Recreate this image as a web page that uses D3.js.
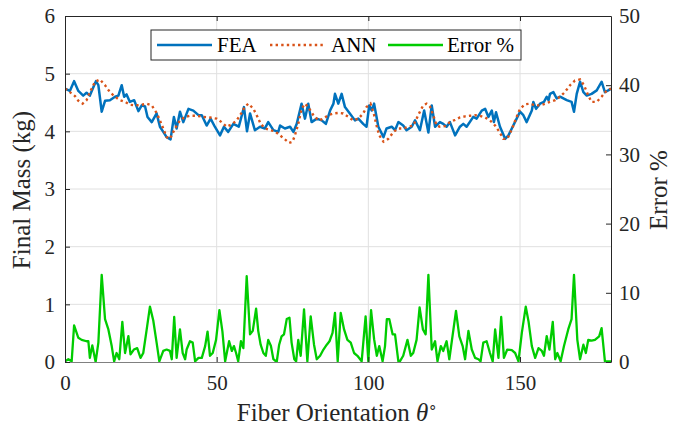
<!DOCTYPE html>
<html><head><meta charset="utf-8">
<script src="https://cdn.jsdelivr.net/npm/d3@7"></script>
<style>
html,body{margin:0;padding:0;background:#fff;}
svg{display:block;}
</style>
</head><body>
<svg id="chart" width="689" height="430"></svg>
<script>
// ---------- data ----------
const feaTheta = [0,1.6,3.0,4.4,6.0,7.1,8.2,9.3,10.2,11.0,12.1,13.2,14.8,16.5,17.6,18.7,19.5,20.3,21.4,22.8,24.2,25.3,26.4,27.2,28.6,30.2,31.3,32.4,33.5,34.8,35.9,36.8,37.9,39.0,40.7,42.3,44.0,45.1,46.7,48.0,49.4,51.1,52.4,53.8,55.5,57.3,59.0,60.0,61.0,62.6,64.3,65.9,67.0,68.7,70.3,70.9,72.5,74.2,75.3,76.4,78.0,79.1,80.2,81.3,83.0,84.6,86.0,87.4,88.5,89.0,90.1,91.2,92.3,93.9,95.6,96.7,98.3,99.4,100.3,101.1,101.9,103.3,105.0,106.0,107.7,108.8,109.9,111.5,112.6,114.3,115.4,117.0,118.4,119.8,120.9,122.0,123.6,124.7,125.8,126.9,128.6,130.2,131.3,132.4,134.6,135.7,137.4,138.5,139.6,140.7,141.4,142.1,143.4,145.1,146.2,147.3,148.9,150.0,151.1,152.2,153.9,154.4,155.3,156.6,157.9,158.8,159.4,159.9,161.0,162.1,163.2,165.4,167.0,167.8,168.7,169.8,170.9,172.0,173.6,175.3,176.9,178.0,179.1,180];
const feaMass  = [4.74,4.70,4.87,4.70,4.62,4.67,4.62,4.76,4.87,4.80,4.34,4.53,4.54,4.60,4.62,4.80,4.60,4.64,4.51,4.54,4.35,4.45,4.43,4.25,4.16,4.31,4.08,3.99,3.90,3.86,4.25,4.05,4.34,4.16,4.39,4.36,4.28,4.28,4.10,4.22,4.08,3.93,4.08,3.99,4.13,4.08,4.42,4.00,4.31,4.02,4.08,4.05,4.16,4.02,3.99,4.10,4.05,4.08,3.99,4.13,4.48,4.22,4.48,4.16,4.22,4.19,4.13,4.36,4.48,4.65,4.48,4.65,4.42,4.31,4.19,4.22,4.13,4.08,4.45,4.36,4.48,4.08,3.90,4.05,4.08,4.02,4.16,4.10,4.02,4.08,4.19,4.02,4.36,3.98,4.45,4.08,4.16,4.13,4.08,4.16,3.93,4.08,4.13,4.08,4.25,4.22,4.36,4.39,4.25,4.36,4.16,4.33,4.08,3.87,3.93,4.05,4.22,4.34,4.28,4.16,4.36,4.51,4.39,4.48,4.51,4.60,4.54,4.65,4.68,4.57,4.60,4.54,4.51,4.34,4.65,4.86,4.68,4.62,4.65,4.71,4.86,4.68,4.71,4.74];

const annTheta = [0,1.6,3.3,4.4,5.8,7.1,8.5,9.9,11.5,13.2,14.8,16.5,18.1,19.8,21.4,23.1,25.3,26.9,28.6,30.2,31.3,32.6,33.5,34.6,36.3,37.9,39.6,41.2,43.4,45.6,47.8,50.0,51.6,53.3,55.0,56.6,58.2,59.3,60.5,62.1,63.2,64.5,65.9,67.6,69.2,70.9,72.5,73.9,75.0,75.8,76.9,78.0,79.1,80.2,81.9,83.5,85.2,86.8,88.5,90.1,91.7,93.4,95.0,96.7,98.3,99.4,100.7,101.8,102.7,103.6,105.0,106.6,108.3,109.9,111.5,113.2,114.8,115.9,117.0,118.1,119.2,120.3,121.4,122.5,123.6,125.3,126.9,128.6,130.2,131.9,133.5,135.2,136.8,138.5,140.1,141.8,143.2,144.5,145.8,146.9,147.8,148.9,150.0,151.7,153.3,154.9,156.6,158.3,159.9,161.6,163.2,164.8,166.5,168.1,169.8,171.1,172.5,173.6,175.3,176.9,178.6,180];
const annMass  = [4.74,4.68,4.61,4.53,4.48,4.54,4.71,4.86,4.90,4.80,4.68,4.60,4.54,4.51,4.46,4.45,4.46,4.48,4.45,4.32,4.19,4.02,3.90,3.87,4.05,4.19,4.25,4.27,4.27,4.25,4.24,4.22,4.16,4.08,4.12,4.19,4.32,4.43,4.48,4.39,4.28,4.13,4.05,4.02,4.00,3.93,3.86,3.80,3.82,3.93,4.13,4.39,4.48,4.42,4.28,4.19,4.22,4.28,4.31,4.32,4.31,4.25,4.19,4.22,4.31,4.42,4.48,4.31,4.10,3.93,3.82,3.87,3.99,4.05,4.05,4.08,4.10,4.22,4.34,4.45,4.48,4.43,4.28,4.10,4.08,4.09,4.16,4.20,4.24,4.26,4.27,4.28,4.27,4.24,4.19,4.10,3.99,3.87,3.87,3.99,4.10,4.25,4.39,4.47,4.48,4.45,4.45,4.48,4.51,4.54,4.60,4.68,4.80,4.88,4.90,4.80,4.62,4.51,4.51,4.60,4.71,4.74];

const errTheta = [0,1.1,2.2,3.0,4.4,5.5,7.1,7.7,8.2,9.0,10.1,11.0,12.1,13.2,14.3,15.4,16.2,17.0,17.9,18.9,19.8,20.9,21.6,22.7,23.8,24.9,25.8,26.9,28.0,29.1,30.2,31.1,32.4,33.5,34.6,35.2,36.0,36.8,37.9,38.8,39.6,40.1,41.2,42.1,42.9,44.0,45.1,46.2,47.0,47.8,48.7,49.8,50.9,51.9,52.8,54.1,55.0,55.7,56.4,57.1,58.0,58.8,59.9,61.0,61.9,63.0,63.7,64.5,65.4,66.2,67.0,67.9,68.7,69.8,70.6,71.4,72.2,73.1,74.0,74.7,75.6,76.2,76.9,77.7,78.8,79.9,81.0,82.1,83.0,84.1,85.2,86.3,87.2,88.2,89.0,89.9,90.9,92.0,93.1,94.2,95.3,96.4,97.8,99.1,100.0,100.9,101.9,102.8,103.6,104.7,105.5,106.1,106.9,108.0,108.8,109.9,110.4,111.5,112.9,114.0,114.8,115.9,116.9,118.0,118.9,119.8,120.9,122.0,122.8,123.9,124.7,125.8,126.7,128.9,130.0,131.1,131.9,133.0,134.1,135.2,136.3,137.0,137.9,139.0,140.1,141.0,141.8,142.9,143.8,144.7,145.8,147.3,148.4,149.5,150.6,151.9,152.8,153.9,155.0,156.1,157.2,157.9,158.8,159.7,160.8,161.6,162.3,163.4,164.5,165.9,167.0,167.8,168.9,169.8,170.9,171.7,172.5,173.6,174.7,176.1,176.9,178.0,179.1,180];
const errPct   = [0.1,0.4,0.1,5.3,3.5,3.2,3.0,3.0,0.6,2.4,0.0,2.8,12.6,6.2,4.7,2.3,0.1,1.3,0.4,5.8,1.3,3.75,1.1,1.8,2.0,0.6,1.3,4.6,8.0,6.0,2.8,0.1,1.6,1.8,1.6,0.4,6.5,0.6,4.7,1.3,0.4,1.8,3.0,2.8,0.1,0.6,0.6,2.3,4.4,0.9,1.3,3.2,7.5,4.4,0.1,3.0,1.6,2.3,1.3,0.1,3.0,2.0,12.4,4.0,4.5,7.7,4.5,2.5,1.3,0.9,3.2,2.3,0.4,0.0,2.5,3.7,4.0,6.2,6.4,2.8,0.4,0.1,3.2,0.9,7.6,0.1,6.6,2.5,0.4,0.9,1.8,2.5,3.0,4.2,7.1,0.1,7.1,4.7,3.2,2.8,1.3,0.9,0.1,6.6,0.1,7.5,3.3,0.9,2.3,0.1,2.3,6.2,6.2,4.0,4.0,0.1,0.1,0.9,3.2,0.9,1.3,3.2,7.9,4.7,4.0,12.6,1.8,3.0,0.1,2.3,1.6,3.0,0.4,7.4,3.7,2.3,0.4,4.5,1.8,0.6,0.4,0.1,2.8,3.0,1.3,0.1,4.7,0.6,6.5,0.6,1.8,1.7,1.3,0.1,4.2,8.0,5.9,2.3,0.6,2.0,1.6,0.9,3.75,1.8,5.8,0.4,1.3,0.1,2.3,4.7,6.2,12.6,3.2,0.4,2.5,1.3,3.2,3.1,3.2,3.7,4.9,0.1,0.1,0.1];

const xTicks = [0,50,100,150];
const yLeftTicks = [0,1,2,3,4,5,6];
const yRightTicks = [0,10,20,30,40,50];
const legendLabels = ["FEA","ANN","Error %"];

// ---------- layout ----------
const svg = d3.select("#chart");
const L = 65, R = 611, T = 16, B = 362;
const FONT = '"Liberation Serif"';
const x = d3.scaleLinear().domain([0,180]).range([L,R]);
const yL = d3.scaleLinear().domain([0,6]).range([B,T]);
const yR = d3.scaleLinear().domain([0,50]).range([B,T]);
const fmt = d3.format("d");

// grid
const grid = svg.append("g").attr("stroke","#e0e0e0").attr("stroke-width",1);
xTicks.filter(d=>d>0).forEach(d=>grid.append("line").attr("x1",x(d)).attr("x2",x(d)).attr("y1",T).attr("y2",B));
yLeftTicks.filter(d=>d>0&&d<6).forEach(d=>grid.append("line").attr("x1",L).attr("x2",R).attr("y1",yL(d)).attr("y2",yL(d)));

svg.append("defs").append("clipPath").attr("id","clip")
  .append("rect").attr("x",L).attr("y",T-2).attr("width",R-L).attr("height",B-T+2);

const plot = svg.append("g").attr("clip-path","url(#clip)");
const lineL = (xs) => d3.line().x((d,i)=>x(xs[i])).y(d=>yL(d));
const lineR = (xs) => d3.line().x((d,i)=>x(xs[i])).y(d=>yR(d));

plot.append("path").datum(feaMass).attr("d",lineL(feaTheta))
  .attr("fill","none").attr("stroke","#0072BD").attr("stroke-width",2.5).attr("stroke-linejoin","round");
plot.append("path").datum(annMass).attr("d",lineL(annTheta))
  .attr("fill","none").attr("stroke","#D95319").attr("stroke-width",2.4).attr("stroke-dasharray","2.4,3.2");
plot.append("path").datum(errPct).attr("d",lineR(errTheta))
  .attr("fill","none").attr("stroke","#00CC00").attr("stroke-width",2.3).attr("stroke-linejoin","round");

// axes
function styleAxis(g){
  g.attr("font-family",null).attr("font-size",null);
  g.selectAll("text").style("font-family",FONT).style("font-size","21px").attr("fill","#262626");
  g.selectAll("line").attr("stroke","#262626");
}
const gx = svg.append("g").attr("transform",`translate(0,${B})`)
  .call(d3.axisBottom(x).tickValues(xTicks).tickFormat(fmt).tickSize(-5).tickPadding(13).tickSizeOuter(0));
styleAxis(gx); gx.select(".domain").attr("stroke","#808080").attr("stroke-width",1.2);
const gxt = svg.append("g").attr("transform",`translate(0,${T})`)
  .call(d3.axisTop(x).tickValues(xTicks).tickSize(-5).tickFormat("").tickSizeOuter(0));
styleAxis(gxt); gxt.select(".domain").attr("stroke","#262626");

const gl = svg.append("g").attr("transform",`translate(${L},0)`)
  .call(d3.axisLeft(yL).tickValues(yLeftTicks).tickFormat(fmt).tickSize(-5).tickPadding(10).tickSizeOuter(0));
styleAxis(gl); gl.select(".domain").attr("stroke","#262626");
const gr = svg.append("g").attr("transform",`translate(${R},0)`)
  .call(d3.axisRight(yR).tickValues(yRightTicks).tickFormat(fmt).tickSize(-5).tickPadding(8).tickSizeOuter(0));
styleAxis(gr); gr.select(".domain").attr("stroke","#262626");

// axis labels
svg.append("text").attr("x",337).attr("y",421).attr("text-anchor","middle")
  .style("font-family",FONT).style("font-size","25px").attr("fill","#262626")
  .html('Fiber Orientation <tspan font-style="italic">θ</tspan><tspan dy="-9" font-size="15px">∘</tspan>');
svg.append("text").attr("transform","translate(30,190) rotate(-90)").attr("text-anchor","middle")
  .style("font-family",FONT).style("font-size","25px").attr("fill","#262626").text("Final Mass (kg)");
svg.append("text").attr("transform","translate(667,190) rotate(-90)").attr("text-anchor","middle")
  .style("font-family",FONT).style("font-size","25px").attr("fill","#262626").text("Error %");

// legend
const lg = svg.append("g");
lg.append("rect").attr("x",151).attr("y",30).attr("width",370).attr("height",30)
  .attr("fill","#fff").attr("stroke","#262626").attr("stroke-width",1);
const legendItems = [
  {x1:157,x2:212,tx:217,color:"#0072BD",dash:null,w:2.5},
  {x1:270,x2:323,tx:331,color:"#D95319",dash:"2.4,3.2",w:2.4},
  {x1:388,x2:443,tx:447,color:"#00CC00",dash:null,w:2.3}
];
legendItems.forEach((it,i)=>{
  lg.append("line").attr("x1",it.x1).attr("x2",it.x2).attr("y1",45).attr("y2",45)
    .attr("stroke",it.color).attr("stroke-width",it.w).attr("stroke-dasharray",it.dash);
  lg.append("text").attr("x",it.tx).attr("y",52).style("font-family",FONT).style("font-size","21px")
    .attr("fill","#000").text(legendLabels[i]);
});
</script>
</body></html>
